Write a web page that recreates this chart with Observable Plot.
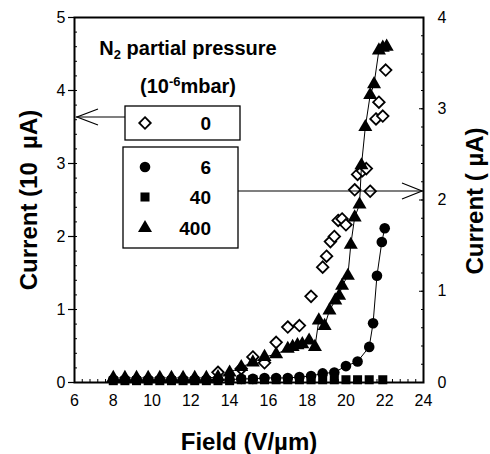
<!DOCTYPE html>
<html><head><meta charset="utf-8">
<script src="https://cdn.jsdelivr.net/npm/d3@7"></script>
<script src="https://cdn.jsdelivr.net/npm/@observablehq/plot@0.6"></script>
<style>html,body{margin:0;padding:0;background:#fff;overflow:hidden}</style>
</head><body><div id="chart"></div>
<script>
// ---- axes ----
const xTicks = [6, 8, 10, 12, 14, 16, 18, 20, 22, 24];
const leftTicks = [0, 1, 2, 3, 4, 5];
const rightTicks = [0, 1, 2, 3, 4];
const leftMax = 5, rightMax = 4;

// ---- N2 partial pressure 0 (open diamonds, left axis, 10 µA) ----
const field0 = [13.4, 14.6, 15.2, 15.8, 16.4, 17.0, 17.6, 18.2, 18.8, 19.0, 19.2, 19.4, 19.6, 19.8, 20.0, 20.45, 20.6, 20.85, 21.05, 21.25, 21.55, 21.7, 21.9, 22.05];
const current0 = [0.14, 0.19, 0.35, 0.27, 0.55, 0.76, 0.78, 1.18, 1.58, 1.73, 1.93, 2.00, 2.22, 2.24, 2.16, 2.64, 2.85, 2.90, 2.93, 2.62, 3.61, 3.84, 3.65, 4.28];

// ---- N2 partial pressure 6 (filled circles, right axis, µA) ----
const field6 = [8.0, 8.6, 9.2, 9.8, 10.4, 11.0, 11.6, 12.2, 12.8, 13.4, 14.0, 14.6, 15.2, 15.8, 16.4, 17.0, 17.6, 18.2, 18.8, 19.4, 20.0, 20.6, 21.2, 21.4, 21.6, 21.85, 22.0];
const current6 = [0.03, 0.03, 0.03, 0.03, 0.03, 0.03, 0.03, 0.03, 0.03, 0.03, 0.03, 0.04, 0.04, 0.05, 0.05, 0.05, 0.06, 0.07, 0.10, 0.11, 0.18, 0.23, 0.39, 0.65, 1.17, 1.54, 1.69];

// ---- N2 partial pressure 40 (filled squares, right axis, µA) ----
const field40 = [8.0, 8.6, 9.2, 9.8, 10.4, 11.0, 11.6, 12.2, 12.8, 13.4, 14.0, 14.6, 15.2, 15.8, 16.4, 17.0, 17.6, 18.2, 18.8, 19.4, 20.0, 20.6, 21.2, 21.9];
const current40 = [0.02, 0.02, 0.02, 0.02, 0.02, 0.02, 0.02, 0.02, 0.02, 0.02, 0.02, 0.03, 0.03, 0.03, 0.03, 0.03, 0.03, 0.03, 0.03, 0.03, 0.03, 0.03, 0.03, 0.03];

// ---- N2 partial pressure 400 (filled triangles, right axis, µA) ----
const field400 = [8.0, 8.6, 9.2, 9.8, 10.4, 11.0, 11.6, 12.2, 12.8, 13.4, 14.0, 14.6, 15.2, 15.8, 16.4, 17.0, 17.25, 17.5, 17.75, 18.1, 18.4, 18.6, 18.9, 19.15, 19.45, 19.65, 19.8, 20.1, 20.25, 20.45, 20.7, 20.8, 21.0, 21.25, 21.45, 21.7, 21.9, 22.1];
const current400 = [0.05, 0.05, 0.05, 0.05, 0.05, 0.05, 0.05, 0.05, 0.05, 0.06, 0.11, 0.17, 0.22, 0.28, 0.31, 0.37, 0.39, 0.41, 0.42, 0.46, 0.39, 0.68, 0.62, 0.79, 0.90, 0.95, 1.06, 1.17, 1.51, 1.81, 1.95, 2.38, 2.80, 3.15, 3.27, 3.64, 3.67, 3.68];

const legendLabels = ["0", "6", "40", "400"];

// right-axis values are placed on the shared y scale (0–5) by the axis ratio
const k = leftMax / rightMax;
const rows = (xs, ys, s) => xs.map((x, i) => ({field: x, current: ys[i] * s}));
const d0 = rows(field0, current0, 1);
const d6 = rows(field6, current6, k);
const d40 = rows(field40, current40, k);
const d400 = rows(field400, current400, k);

const range = (a, b, st) => { const o = []; for (let v = a; v <= b + 1e-9; v += st) o.push(+v.toFixed(4)); return o; };
const xMinor = range(6, 24, 0.4);
const leftMinor = range(0, 5, 0.2);
const rightMinor = range(0, 4, 0.2).map(v => v * k);

const FONT = "'Liberation Sans', Arial, Helvetica, sans-serif";
const blank = () => "";
const TS = 16;
const R = {diamond: 5.2, circle: 5.3, square: 5.1, triangle: 5.2};

const plot = Plot.plot({
  width: 490, height: 454,
  marginLeft: 74, marginRight: 67, marginTop: 17, marginBottom: 72,
  x: {domain: [6, 24]},
  y: {domain: [0, leftMax]},
  style: {fontFamily: FONT, fontSize: "16px", color: "black", background: "white"},
  marks: [
    Plot.axisY(leftMinor, {anchor: "left", tickSize: -3, tickFormat: blank, label: null}),
    Plot.axisY(leftTicks, {anchor: "left", tickSize: 6, tickPadding: 3, label: null, strokeWidth: 1.2, fontSize: TS, tickFormat: d => String(d)}),
    Plot.axisY(rightMinor, {anchor: "right", tickSize: -3, tickFormat: blank, label: null}),
    Plot.axisY(rightTicks.map(v => v * k), {anchor: "right", tickSize: -5, tickFormat: blank, label: null}),
    Plot.axisY(rightTicks.map(v => v * k), {anchor: "right", tickSize: 0, tickPadding: 14, label: null, fontSize: TS, tickFormat: d => String(Math.round(d / k))}),
    Plot.axisX(xMinor, {anchor: "bottom", tickSize: -3, tickFormat: blank, label: null}),
    Plot.axisX(xTicks, {anchor: "bottom", tickSize: 0, tickPadding: 12, label: null, fontSize: TS, tickFormat: d => String(d)}),
    Plot.frame({stroke: "black", strokeWidth: 2}),
    Plot.dot(d0, {x: "field", y: "current", symbol: "diamond2", r: R.diamond, stroke: "black", fill: "white", strokeWidth: 1.8}),
    Plot.line(d400, {x: "field", y: "current", stroke: "black", strokeWidth: 1}),
    Plot.line(d6, {x: "field", y: "current", stroke: "black", strokeWidth: 1}),
    Plot.dot(d40, {x: "field", y: "current", symbol: "square", r: R.square, fill: "black"}),
    Plot.dot(d6, {x: "field", y: "current", symbol: "circle", r: R.circle, fill: "black"}),
    Plot.dot(d400, {x: "field", y: "current", symbol: "triangle", r: R.triangle, fill: "black"})
  ]
});
document.getElementById("chart").appendChild(plot);

// ---- titles & legend annotations ----
const svg = d3.select(plot);
const g = svg.append("g").attr("font-family", FONT).attr("fill", "black").attr("text-anchor", "start");

g.append("text").attr("transform", "translate(37,200) rotate(-90)")
  .attr("text-anchor", "middle").attr("font-weight", "bold").attr("font-size", 24)
  .text("Current (10\u00A0\u00A0\u00B5A)");
g.append("text").attr("transform", "translate(483,201) rotate(-90)")
  .attr("text-anchor", "middle").attr("font-weight", "bold").attr("font-size", 24)
  .text("Current (\u00A0\u00B5A)");
g.append("text").attr("x", 249).attr("y", 450)
  .attr("text-anchor", "middle").attr("font-weight", "bold").attr("font-size", 24)
  .text("Field (V/\u00B5m)");

// legend title
const t1 = g.append("text").attr("x", 188).attr("y", 55).attr("text-anchor", "middle").attr("font-weight", "bold").attr("font-size", 20);
t1.append("tspan").text("N");
t1.append("tspan").attr("font-size", 13).attr("dy", 4).text("2");
t1.append("tspan").attr("dy", -4).text(" partial pressure");
const t2 = g.append("text").attr("x", 188).attr("y", 93).attr("text-anchor", "middle").attr("font-weight", "bold").attr("font-size", 20);
t2.append("tspan").text("(10");
t2.append("tspan").attr("font-size", 13).attr("dy", -7).text("-6");
t2.append("tspan").attr("dy", 7).text("mbar)");

// boxes
g.append("rect").attr("x", 125).attr("y", 106).attr("width", 115).attr("height", 34)
  .attr("fill", "white").attr("stroke", "black").attr("stroke-width", 1.3);
g.append("rect").attr("x", 123).attr("y", 147).attr("width", 115).attr("height", 101)
  .attr("fill", "white").attr("stroke", "black").attr("stroke-width", 1.3);

// arrows
const ln = (pts) => g.append("path").attr("d", d3.line()(pts)).attr("fill", "none").attr("stroke", "black").attr("stroke-width", 1.2);
ln([[125, 117], [76, 117]]);
ln([[98, 109], [77, 117], [98, 125]]);
ln([[238, 191], [423, 191]]);
ln([[402, 183], [422, 191], [402, 199]]);

// legend symbols
const sym = (type, r) => d3.symbol(type, Math.PI * r * r)();
const items = [
  {y: 123, t: d3.symbolDiamond2, r: R.diamond, fill: "white", stroke: "black", label: legendLabels[0]},
  {y: 167, t: d3.symbolCircle, r: R.circle, fill: "black", stroke: "none", label: legendLabels[1]},
  {y: 197, t: d3.symbolSquare, r: R.square, fill: "black", stroke: "none", label: legendLabels[2]},
  {y: 228, t: d3.symbolTriangle, r: R.triangle, fill: "black", stroke: "none", label: legendLabels[3]}
];
for (const it of items) {
  g.append("path").attr("transform", `translate(145,${it.y})`).attr("d", sym(it.t, it.r))
    .attr("fill", it.fill).attr("stroke", it.stroke).attr("stroke-width", 1.8);
  g.append("text").attr("x", 211).attr("y", it.y + 6.5).attr("text-anchor", "end")
    .attr("font-weight", "bold").attr("font-size", 19).text(it.label);
}
</script></body></html>
